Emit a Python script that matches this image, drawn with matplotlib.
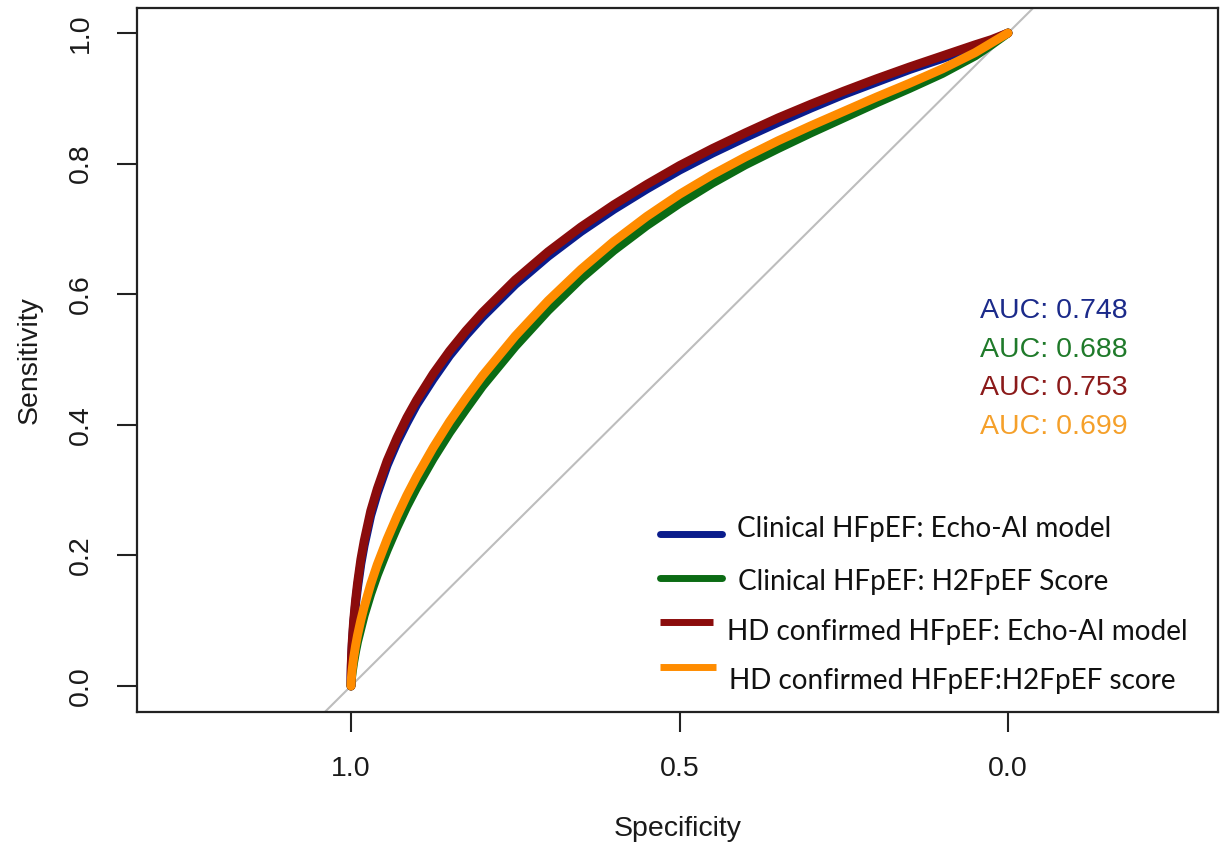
import matplotlib
matplotlib.use("Agg")
import matplotlib.pyplot as plt
from matplotlib.lines import Line2D

# ---- data (false-positive rate = 1 - specificity) ----
fpr = [0.0, 0.0001, 0.0005, 0.001, 0.002, 0.004, 0.007, 0.01, 0.015, 0.02,
       0.03, 0.04, 0.055, 0.07, 0.085, 0.1, 0.125, 0.15, 0.175, 0.2, 0.25,
       0.3, 0.35, 0.4, 0.45, 0.5, 0.55, 0.6, 0.65, 0.7, 0.75, 0.8, 0.85,
       0.9, 0.95, 0.975, 1.0]

sens_clin_ai = [0.0, 0.015, 0.032, 0.045, 0.065, 0.094, 0.126, 0.151, 0.187,
                0.215, 0.261, 0.295, 0.338, 0.373, 0.403, 0.431, 0.470, 0.506,
                0.537, 0.565, 0.615, 0.658, 0.696, 0.730, 0.761, 0.790, 0.816,
                0.840, 0.863, 0.885, 0.906, 0.925, 0.944, 0.961, 0.979, 0.988,
                1.0]
sens_clin_h2 = [0.0, 0.003, 0.009, 0.014, 0.022, 0.036, 0.053, 0.068, 0.088,
                0.108, 0.141, 0.170, 0.208, 0.243, 0.275, 0.304, 0.348, 0.388,
                0.424, 0.459, 0.520, 0.575, 0.624, 0.667, 0.705, 0.739, 0.770,
                0.798, 0.823, 0.847, 0.870, 0.893, 0.915, 0.938, 0.965, 0.982,
                1.0]
sens_hd_ai = [0.0, 0.018, 0.036, 0.050, 0.070, 0.100, 0.132, 0.158, 0.194,
              0.222, 0.268, 0.302, 0.345, 0.380, 0.411, 0.438, 0.478, 0.513,
              0.544, 0.572, 0.622, 0.665, 0.703, 0.737, 0.768, 0.797, 0.823,
              0.847, 0.870, 0.891, 0.911, 0.930, 0.948, 0.965, 0.982, 0.990,
              1.0]
sens_hd_h2 = [0.0, 0.0035, 0.011, 0.017, 0.027, 0.043, 0.062, 0.078, 0.101,
              0.121, 0.156, 0.186, 0.225, 0.260, 0.292, 0.321, 0.365, 0.405,
              0.441, 0.475, 0.536, 0.590, 0.638, 0.681, 0.719, 0.753, 0.783,
              0.810, 0.835, 0.858, 0.880, 0.902, 0.923, 0.945, 0.970, 0.985,
              1.0]

labels = ["Clinical HFpEF: Echo-AI model",
          "Clinical HFpEF: H2FpEF Score",
          "HD confirmed HFpEF: Echo-AI model",
          "HD confirmed HFpEF:H2FpEF score"]
auc_values = [0.748, 0.688, 0.753, 0.699]
colors = ["#0a1c8c", "#0b6b14", "#8b0c0c", "#ff8c00"]
text_colors = ["#1b2a8a", "#1f7a2a", "#8b1a1a", "#f5a02a"]

x_ticks = [1.0, 0.5, 0.0]
y_ticks = [0.0, 0.2, 0.4, 0.6, 0.8, 1.0]

W, H = 1220, 846
fig = plt.figure(figsize=(W / 100, H / 100), dpi=100)
ax = fig.add_axes([137 / W, 1 - 712 / H, (1218 - 137) / W, (712 - 8) / H])

spec = [1 - f for f in fpr]
ax.axline((1.0, 0.0), (0.0, 1.0), color="#bdbdbd", lw=1.5, zorder=1)
for sens, c in zip([sens_clin_ai, sens_clin_h2, sens_hd_ai, sens_hd_h2], colors):
    ax.plot(spec, sens, color=c, lw=6.4, solid_capstyle="round",
            solid_joinstyle="round", zorder=2)

ax.set_xlim(1.3257, -0.3196)
ax.set_ylim(-0.0398, 1.0383)

afont = "Liberation Sans"
fs = 20.5
ax.set_xticks(x_ticks)
ax.set_xticklabels([f"{v:.1f}" for v in x_ticks], fontsize=fs, family=afont)
ax.set_yticks(y_ticks)
ax.set_yticklabels([f"{v:.1f}" for v in y_ticks], fontsize=fs, family=afont,
                   rotation=90, va="center")
ax.tick_params(direction="out", length=14.4, width=1.5, color="#222222",
               pad=17, labelcolor="#1a1a1a")
for s in ax.spines.values():
    s.set_linewidth(1.6)
    s.set_color("#222222")

ax.set_xlabel("Specificity", fontsize=fs, family=afont, color="#1a1a1a",
              labelpad=25)
ax.set_ylabel("Sensitivity", fontsize=fs, family=afont, color="#1a1a1a",
              labelpad=18)

# AUC annotations
auc_base = [318, 357, 395, 434]
for v, c, yb in zip(auc_values, text_colors, auc_base):
    fig.text(980 / W, 1 - yb / H, f"AUC: {v:.3f}", color=c, fontsize=fs,
             family=afont, va="baseline", ha="left")

# legend (no frame)
leg_line_y = [534, 578, 622, 667]
leg_line_x1 = [722, 722, 713, 716]
leg_text_x = [737, 738, 727, 729]
leg_text_base = [537, 590, 640, 689]
for i in range(4):
    fig.add_artist(Line2D([660 / W, leg_line_x1[i] / W],
                          [1 - leg_line_y[i] / H, 1 - leg_line_y[i] / H],
                          color=colors[i], lw=5.0, solid_capstyle="round"
                          if i < 2 else "butt"))
    fig.text(leg_text_x[i] / W, 1 - leg_text_base[i] / H, labels[i],
             fontsize=20.1, family="Lato", color="#111111", va="baseline",
             ha="left")

fig.savefig("out.png", dpi=100)
